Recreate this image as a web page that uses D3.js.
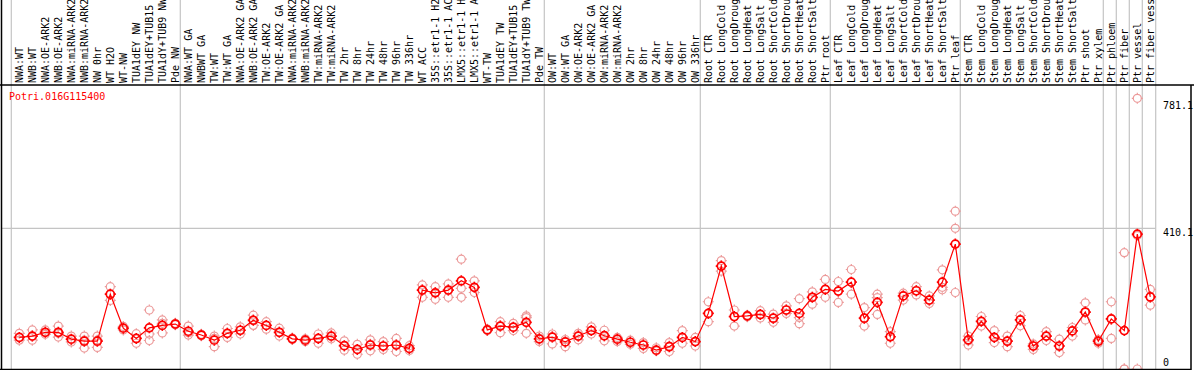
<!DOCTYPE html>
<html><head><meta charset="utf-8">
<script src="https://cdn.jsdelivr.net/npm/d3@7"></script>
<style>
body{margin:0;background:#fff}
svg{display:block}
text{font-family:"DejaVu Sans Mono","Liberation Mono",monospace;font-size:10px}
</style>
</head><body><svg id="c" width="1194" height="370"></svg>
<script>
const geneId = "Potri.016G115400";
const categories = ["NWA:WT","NWB:WT","NWA:OE-ARK2","NWB:OE-ARK2","NWA:miRNA-ARK2","NWB:miRNA-ARK2","NW 0hr","WT H2O","WT-NW","TUA1dEY NW","TUA1dEY+TUB15 NW","TUA1dY+TUB9 NW","Pde NW",
"NWA:WT GA","NWBWT GA","TW:WT","TW:WT GA","NWA:OE-ARK2 GA","NWB:OE-ARK2 GA","TW:OE-ARK2","TW:OE-ARK2 GA","NWA:miRNA-ARK2 GA","NWB:miRNA-ARK2 GA","TW:miRNA-ARK2","TW:miRNA-ARK2 GA","TW 2hr","TW 8hr","TW 24hr","TW 48hr","TW 96hr","TW 336hr","WT ACC","35S::etr1-1 H2O","35S::etr1-1 ACC","LMX5::etr1-1 H2O","LMX5::etr1-1 ACC","WT-TW","TUA1dEY TW","TUA1dEY+TUB15 TW","TUA1dY+TUB9 TW","Pde TW",
"OW:WT","OW:WT GA","OW:OE-ARK2","OW:OE-ARK2 GA","OW:miRNA-ARK2","OW:miRNA-ARK2 GA","OW 2hr","OW 8hr","OW 24hr","OW 48hr","OW 96hr","OW 336hr",
"Root CTR","Root LongCold","Root LongDrought","Root LongHeat","Root LongSalt","Root ShortCold","Root ShortDrought","Root ShortHeat","Root ShortSalt","Ptr root",
"Leaf CTR","Leaf LongCold","Leaf LongDrought","Leaf LongHeat","Leaf LongSalt","Leaf ShortCold","Leaf ShortDrought","Leaf ShortHeat","Leaf ShortSalt","Ptr leaf",
"Stem CTR","Stem LongCold","Stem LongDrought","Stem LongHeat","Stem LongSalt","Stem ShortCold","Stem ShortDrought","Stem ShortHeat","Stem ShortSalt","Ptr shoot","Ptr xylem",
"Ptr phloem","Ptr fiber","Ptr vessel","Ptr fiber vessel"];

const meanValues = [92,96,107,107,87,81,81,218,119,89,120,127,131,110,99,84,104,113,142,127,107,88,
84,89,96,68,57,70,67,70,60,230,222,230,257,238,114,125,122,136,88,93,79,96,112,
97,87,78,70,55,65,92,80,162,300,153,155,159,148,172,162,209,232,227,253,148,194,94,
213,228,201,253,364,85,139,92,81,143,67,96,67,111,166,81,146,112,393,210];

const rep1 = [104,114,114,125,96,96,96,240,124,103,172,143,133,125,101,96,118,123,157,138,119,90,
88,102,105,82,72,85,80,89,68,245,240,248,320,257,116,138,133,155,96,102,86,104,123,
113,92,84,77,62,77,112,92,196,316,172,157,170,160,184,205,225,261,255,290,179,218,109,
221,240,213,289,460,96,153,112,96,156,73,109,87,121,193,86,196,339,789,232];

const rep2 = [92,96,107,104,86,84,84,218,119,89,102,133,131,106,99,89,104,113,143,127,107,88,
84,89,96,67,57,72,67,70,60,230,222,230,235,238,114,125,121,150,87,93,79,96,112,
97,86,78,70,55,67,92,80,162,300,152,154,159,148,172,150,209,232,227,253,148,208,94,
213,228,201,238,410,82,139,92,81,143,67,96,67,111,166,81,146,0,389,210];

const rep3 = [84,84,101,93,79,61,63,200,114,75,83,105,129,99,97,65,92,102,127,116,96,86,
80,75,88,55,43,53,57,51,54,209,203,209,209,223,112,106,112,104,80,73,65,85,102,
82,80,72,60,53,51,75,67,138,285,125,152,149,136,162,132,189,209,194,218,125,159,75,
201,216,191,231,223,70,125,77,65,126,57,83,48,96,143,75,89,0,0,186];

const yTicks = [0, 410.1, 781.1];
const gridTicks = [410.1];
const groupStarts = [0,13,41,53,63,73,84,85,86,87];

const svg = d3.select("#c");
const x = d3.scalePoint().domain(d3.range(categories.length)).range([19.3, 1150.3]);
const y = d3.scaleLinear().domain([0, 781.1]).range([369, 101]);

const plotLeft = 1.5, plotRight = 1191, plotTop = 85, plotBottom = 369;
const gridRight = x(categories.length - 1) + 5.4;

// vertical separators
const sepX = groupStarts.map(i => x(i) - 8).concat([gridRight]);
svg.selectAll("line.vsep").data(sepX).join("line")
  .attr("x1", d => d).attr("x2", d => d).attr("y1", 0).attr("y2", plotBottom)
  .attr("stroke", "#c4c4c4").attr("stroke-width", 1.2);

// horizontal grid
svg.selectAll("line.hgrid").data(gridTicks).join("line")
  .attr("x1", plotLeft).attr("x2", gridRight)
  .attr("y1", d => y(d)).attr("y2", d => y(d))
  .attr("stroke", "#c4c4c4").attr("stroke-width", 1.2);

// category labels
svg.selectAll("text.cat").data(categories).join("text")
  .attr("class", "cat")
  .attr("transform", (d, i) => `translate(${x(i) + 3.5},83) rotate(-90)`)
  .attr("fill", "#000")
  .text(d => d);

// header line
svg.append("line").attr("x1", 0).attr("x2", 1194).attr("y1", plotTop).attr("y2", plotTop)
  .attr("stroke", "#000").attr("stroke-width", 1.3);

function circlePath(cx, cy, r) {
  return `M${cx - r},${cy}a${r},${r} 0 1,0 ${2*r},0a${r},${r} 0 1,0 ${-2*r},0` +
    `M${cx - r - 1.5},${cy}h1.5M${cx + r},${cy}h1.5M${cx},${cy - r - 1.5}v1.5M${cx},${cy + r}v1.5`;
}

// replicates
const reps = [];
[rep1, rep2, rep3].forEach(arr => arr.forEach((v, i) => reps.push({i, v})));
svg.append("g").selectAll("path").data(reps).join("path")
  .attr("d", d => circlePath(x(d.i), y(d.v), 4))
  .attr("fill", "none").attr("stroke", "#ec9a9a").attr("stroke-width", 1.2);

// mean line
const line = d3.line().x((d, i) => x(i)).y(d => y(d));
svg.append("path").attr("d", line(meanValues))
  .attr("fill", "none").attr("stroke", "#ff0000").attr("stroke-width", 1.2);

svg.append("g").selectAll("path").data(meanValues).join("path")
  .attr("d", (d, i) => circlePath(x(i), y(d), 4))
  .attr("fill", "none").attr("stroke", "#ff0000").attr("stroke-width", 1.7);

// y tick labels
svg.selectAll("text.yt").data(yTicks).join("text")
  .attr("x", 1163).attr("y", d => d === 0 ? y(d) - 3 : y(d) + 8)
  .attr("fill", "#000")
  .text(d => d);

// borders
svg.append("line").attr("x1", plotLeft).attr("x2", plotLeft).attr("y1", 0).attr("y2", 370)
  .attr("stroke", "#000").attr("stroke-width", 1.5);
svg.append("line").attr("x1", plotRight).attr("x2", plotRight).attr("y1", plotTop).attr("y2", 370)
  .attr("stroke", "#000").attr("stroke-width", 1.5);
svg.append("line").attr("x1", 0).attr("x2", plotRight).attr("y1", plotBottom + 0.5).attr("y2", plotBottom + 0.5)
  .attr("stroke", "#000").attr("stroke-width", 1.5);

// title
svg.append("text").attr("x", 9).attr("y", 100).attr("fill", "#ff0000").text(geneId);
</script>
</body></html>
